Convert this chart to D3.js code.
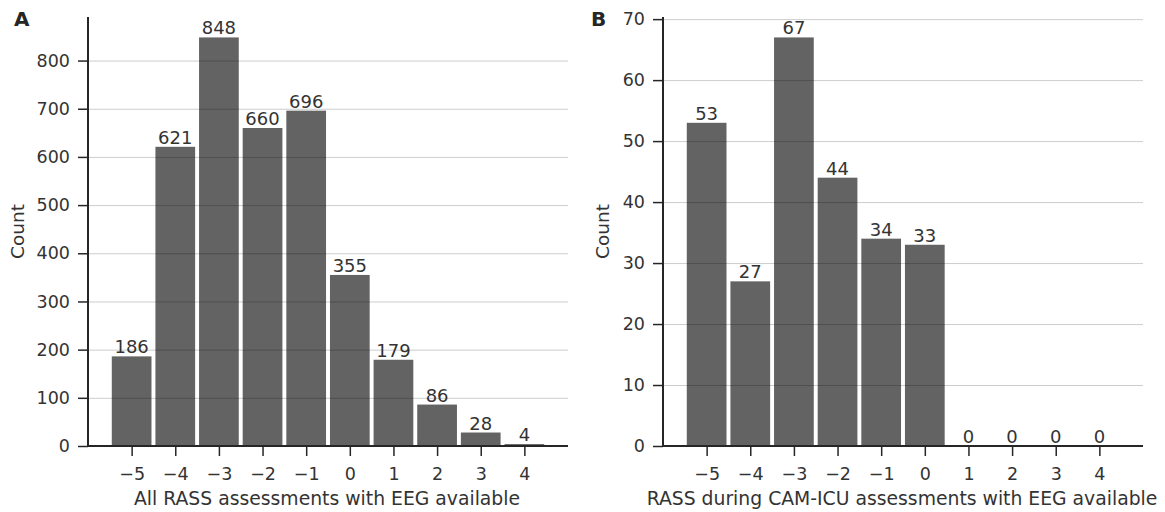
<!DOCTYPE html>
<html>
<head>
<meta charset="utf-8">
<script src="https://cdn.jsdelivr.net/npm/d3@7"></script>
<style>
  body { margin: 0; background: #fff; }
  svg text { font-family: "DejaVu Sans", sans-serif; fill: #333; }
</style>
</head>
<body>
<div id="chart"></div>
<script>
// RASS levels and counts for both panels
var rassLevels = [-5, -4, -3, -2, -1, 0, 1, 2, 3, 4];
var countsAll  = [186, 621, 848, 660, 696, 355, 179, 86, 28, 4];
var countsCam  = [53, 27, 67, 44, 34, 33, 0, 0, 0, 0];
var ticksAll   = [0, 100, 200, 300, 400, 500, 600, 700, 800];
var ticksCam   = [0, 10, 20, 30, 40, 50, 60, 70];

var W = 1165, H = 512;
var svg = d3.select('#chart').append('svg')
    .attr('width', W)
    .attr('height', H);

var panels = [
  { letter: 'A', left: 88,  values: countsAll, ticks: ticksAll,
    xlabel: 'All RASS assessments with EEG available', letterX: 14, ylabelX: 24 },
  { letter: 'B', left: 663, values: countsCam, ticks: ticksCam,
    xlabel: 'RASS during CAM-ICU assessments with EEG available', letterX: 591, ylabelX: 609 }
];

// "top" is a reserved window property, so use plotTop
var plotTop = 17, plotBottom = 446, plotW = 480;

panels.forEach(function(p) {
  var x = d3.scaleLinear().domain([-6, 5]).range([p.left, p.left + plotW]);
  var y = d3.scaleLinear().domain([0, d3.max(p.values) * 1.05]).range([plotBottom, plotTop]);
  var g = svg.append('g');

  // bars
  g.selectAll('.bar')
    .data(p.values)
    .enter().append('rect')
      .attr('class', 'bar')
      .attr('x', (d, i) => x(rassLevels[i] - 0.455))
      .attr('width', x(0.455) - x(-0.455))
      .attr('y', d => y(d))
      .attr('height', d => plotBottom - y(d))
      .attr('fill', '#636363');

  // grid on top of bars
  g.selectAll('.grid')
    .data(p.ticks)
    .enter().append('line')
      .attr('x1', p.left).attr('x2', p.left + plotW)
      .attr('y1', d => y(d) + 0.5).attr('y2', d => y(d) + 0.5)
      .style('stroke', '#000')
      .style('stroke-opacity', 0.2)
      .style('stroke-width', 1);

  // bar labels
  g.selectAll('.lbl')
    .data(p.values)
    .enter().append('text')
      .attr('x', (d, i) => x(rassLevels[i]))
      .attr('y', d => y(d) - 3)
      .attr('text-anchor', 'middle')
      .attr('font-size', '18px')
      .text(d => d);

  // axes
  var xAxis = d3.axisBottom(x).tickValues(rassLevels).tickSize(10).tickPadding(12)
      .tickFormat(d => d < 0 ? '\u2212' + Math.abs(d) : d);
  var gx = g.append('g').attr('transform', 'translate(0,' + plotBottom + ')').call(xAxis);
  var yAxis = d3.axisLeft(y).tickValues(p.ticks).tickSize(10).tickPadding(8);
  var gy = g.append('g').attr('transform', 'translate(' + p.left + ',0)').call(yAxis);

  [gx, gy].forEach(function(a) {
    a.selectAll('path').style('stroke', '#262626').style('stroke-width', 2);
    a.selectAll('line').style('stroke', '#262626').style('stroke-width', 1.5);
    a.selectAll('text').style('font-size', '17.5px').style('fill', '#333')
      .style('font-family', '"DejaVu Sans", sans-serif');
  });
  gx.select('path').attr('d', 'M' + p.left + ',0H' + (p.left + plotW));
  gy.select('path').attr('d', 'M0,' + plotTop + 'V' + plotBottom);

  // axis labels
  g.append('text')
    .attr('x', p.left + plotW / 2 - 1)
    .attr('y', 505)
    .attr('text-anchor', 'middle')
    .attr('font-size', '18.8px')
    .text(p.xlabel);

  g.append('text')
    .attr('transform', 'translate(' + p.ylabelX + ',' + ((plotTop + plotBottom) / 2) + ') rotate(-90)')
    .attr('text-anchor', 'middle')
    .attr('font-size', '18.5px')
    .text('Count');

  g.append('text')
    .attr('x', p.letterX)
    .attr('y', 26)
    .attr('font-size', '20px')
    .attr('font-weight', 'bold')
    .style('fill', '#262626')
    .text(p.letter);
});
</script>
</body>
</html>
